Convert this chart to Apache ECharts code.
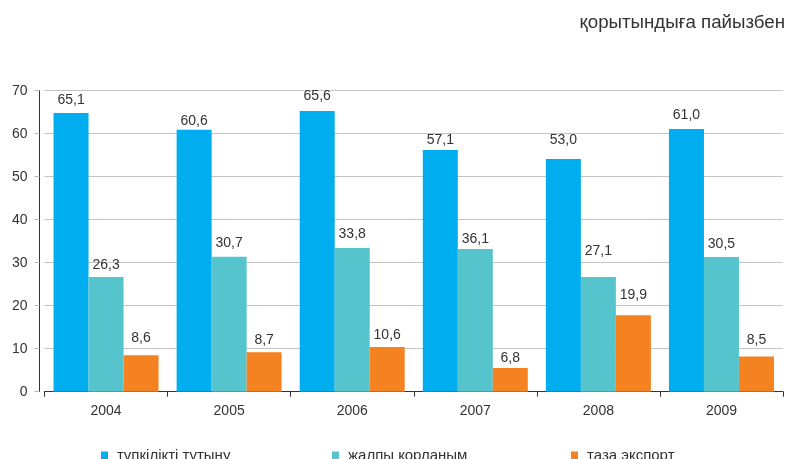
<!DOCTYPE html>
<html><head><meta charset="utf-8">
<script src="https://cdn.jsdelivr.net/npm/echarts@6/dist/echarts.min.js"></script>
<style>html,body{margin:0;padding:0;background:#fff}#c{width:792px;height:459px}</style>
</head><body><div id="c"></div>
<script>
var categories = ['2004','2005','2006','2007','2008','2009'];
var seriesNames = ['түпкілікті тұтыну','жалпы қорланым','таза экспорт'];
// bar heights as drawn in the picture
var consumption = [64.8, 60.9, 65.3, 56.2, 54.1, 61.1];
var accumulation = [26.7, 31.4, 33.4, 33.2, 26.7, 31.3];
var netExport = [8.5, 9.2, 10.4, 5.5, 17.8, 8.2];
// printed value labels
var consumptionLabels = ['65,1','60,6','65,6','57,1','53,0','61,0'];
var accumulationLabels = ['26,3','30,7','33,8','36,1','27,1','30,5'];
var netExportLabels = ['8,6','8,7','10,6','6,8','19,9','8,5'];
var yTicks = [0,10,20,30,40,50,60,70];
// label gaps above bars (style)
var gapsA = [6,2,8,3,12,7], gapsB = [5,7,7,3,19,6], gapsC = [10,5,5,3,13,9];

var colors = ['#00adef','#56c4cc','#f58220'];
var FONT = '"Liberation Sans", Arial, sans-serif';

function build(vals, labels, gaps){
  return vals.map(function(v,i){
    return {value:v, label:{formatter:labels[i], distance:gaps[i]}};
  });
}
function ser(i, vals, labels, gaps){
  return {
    name: seriesNames[i], type:'bar', barWidth:35, barGap:'0%',
    itemStyle:{color:colors[i]},
    label:{show:true, position:'top', color:'#333', fontSize:14, fontFamily:FONT},
    data: build(vals, labels, gaps)
  };
}
var chart = echarts.init(document.getElementById('c'), null, {renderer:'canvas'});
chart.setOption({
  animation:false,
  textStyle:{fontFamily:FONT},
  title:{text:'қорытындыға пайызбен', right:2, top:8,
    textStyle:{fontSize:18.7, fontWeight:'normal', color:'#333', fontFamily:FONT}},
  legend:[0,1,2].map(function(i){
    var lefts=[101,332,571];
    return {data:[seriesNames[i]], left:lefts[i], top:448, icon:'rect',
      itemWidth:7, itemHeight:8, itemGap:0, padding:0,
      textStyle:{fontSize:15, color:'#333', fontFamily:FONT, padding:[0,0,0,4]}};
  }),
  grid:{left:44.5, right:9, top:90.7, bottom:67.3},
  xAxis:{type:'category', data:categories,
    axisLine:{lineStyle:{color:'#333', width:1}},
    axisTick:{show:true, length:5, lineStyle:{color:'#333'}},
    axisLabel:{color:'#333', fontSize:14, margin:12, fontFamily:FONT}},
  yAxis:{type:'value', min:yTicks[0], max:yTicks[yTicks.length-1], interval:10, offset:5,
    axisLine:{show:true, lineStyle:{color:'#333', width:1}},
    axisTick:{show:true, length:5, lineStyle:{color:'#bbb'}},
    axisLabel:{color:'#333', fontSize:14, margin:12, fontFamily:FONT},
    splitLine:{lineStyle:{color:'#c4c4c4', width:1}}},
  series:[
    ser(0, consumption, consumptionLabels, gapsA),
    ser(1, accumulation, accumulationLabels, gapsB),
    ser(2, netExport, netExportLabels, gapsC)
  ]
});
</script></body></html>
